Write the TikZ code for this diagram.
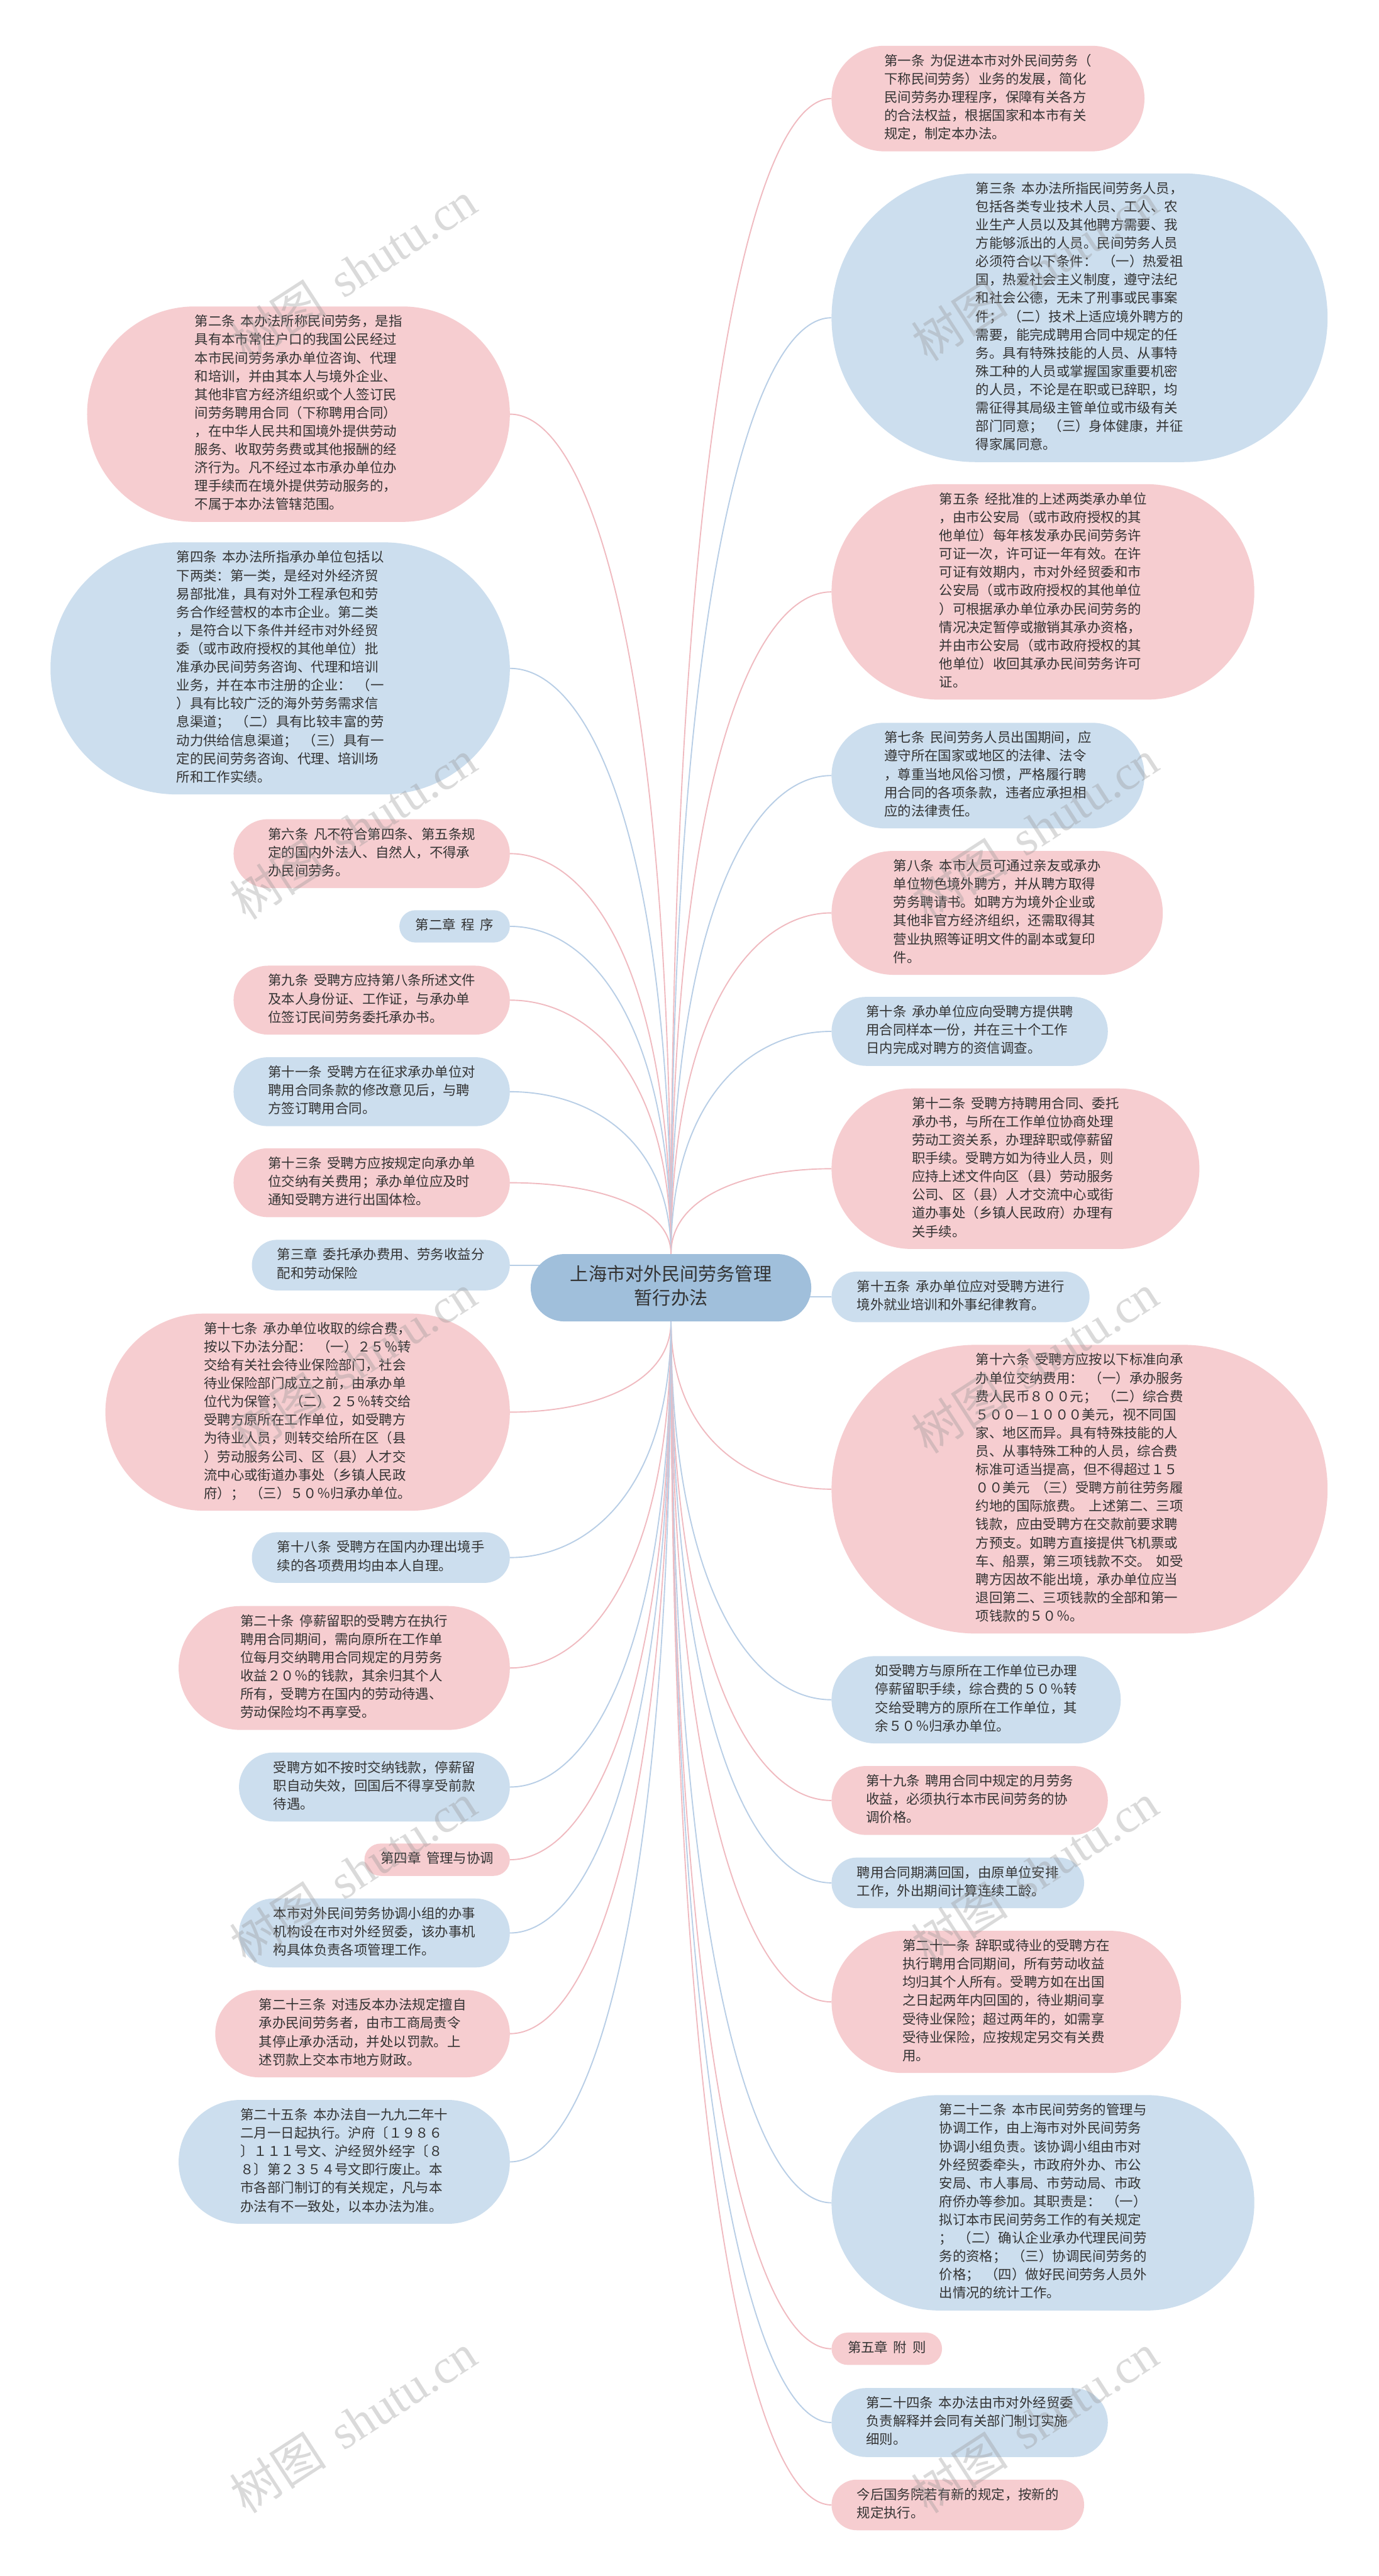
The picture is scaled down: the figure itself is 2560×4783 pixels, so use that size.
\documentclass[tikz,border=0pt]{standalone}
\usepackage{fontspec}
\setmainfont{Noto Sans CJK SC}[WordSpace=1.8]
\newfontfamily\wmlat{Liberation Serif}
\usetikzlibrary{calc}
\definecolor{pinkfill}{RGB}{246,205,208}
\definecolor{bluefill}{RGB}{204,222,238}
\definecolor{centerfill}{RGB}{160,191,219}
\definecolor{pinkline}{RGB}{240,186,192}
\definecolor{blueline}{RGB}{184,206,230}
\definecolor{txt}{RGB}{51,51,51}
\definecolor{wm}{RGB}{150,150,150}
\pgfdeclarelayer{back}
\pgfdeclarelayer{bg}
\pgfsetlayers{back,bg,main}
\tikzset{
  leaf/.style={rectangle, inner ysep=13pt, align=left, text=txt,
    font=\fontsize{25pt}{34pt}\selectfont,
    inner xsep={(34*#1+26)/2}, rounded corners={(34*#1+26)/2},
    minimum height={34*#1+26}},
  pk/.style={leaf=#1, fill=pinkfill},
  bl/.style={leaf=#1, fill=bluefill},
  rnode/.style={anchor=west},
  lnode/.style={anchor=east},
  centre/.style={rectangle, rounded corners=62.5pt, inner xsep=73.5pt, inner ysep=17.5pt,
    minimum height=125pt, align=center, text=txt,
    fill=centerfill, font=\fontsize{34pt}{45pt}\selectfont},
  linepk/.style={draw=pinkline, line width=2.2pt},
  linebl/.style={draw=blueline, line width=2.2pt},
  wmark/.style={rotate=33, text=wm, opacity=0.35, font=\fontsize{90pt}{100pt}\selectfont},
}
\begin{document}
\begin{tikzpicture}[x=1pt,y=-1pt]
\begin{pgfonlayer}{back}
\fill[white] (0,0) rectangle (2560,4783);
\end{pgfonlayer}
\useasboundingbox (0,0) rectangle (2560,4783);

% centre
\node[centre] (c) at (1246,2391) {\strut 上海市对外民间劳务管理\\暂行办法\strut};

% right side
\node[pk=5,rnode] (r1) at (1544,183) {\strut 第一条 为促进本市对外民间劳务（\\下称民间劳务）业务的发展，简化\\民间劳务办理程序，保障有关各方\\的合法权益，根据国家和本市有关\\规定，制定本办法。\strut};
\node[bl=15,rnode] (r2) at (1544,590) {\strut 第三条 本办法所指民间劳务人员，\\包括各类专业技术人员、工人、农\\业生产人员以及其他聘方需要、我\\方能够派出的人员。民间劳务人员\\必须符合以下条件： （一）热爱祖\\国，热爱社会主义制度，遵守法纪\\和社会公德，无未了刑事或民事案\\件； （二）技术上适应境外聘方的\\需要，能完成聘用合同中规定的任\\务。具有特殊技能的人员、从事特\\殊工种的人员或掌握国家重要机密\\的人员，不论是在职或已辞职，均\\需征得其局级主管单位或市级有关\\部门同意； （三）身体健康，并征\\得家属同意。\strut};
\node[pk=11,rnode] (r3) at (1544,1099) {\strut 第五条 经批准的上述两类承办单位\\，由市公安局（或市政府授权的其\\他单位）每年核发承办民间劳务许\\可证一次，许可证一年有效。在许\\可证有效期内，市对外经贸委和市\\公安局（或市政府授权的其他单位\\）可根据承办单位承办民间劳务的\\情况决定暂停或撤销其承办资格，\\并由市公安局（或市政府授权的其\\他单位）收回其承办民间劳务许可\\证。\strut};
\node[bl=5,rnode] (r4) at (1544,1440) {\strut 第七条 民间劳务人员出国期间，应\\遵守所在国家或地区的法律、法令\\，尊重当地风俗习惯，严格履行聘\\用合同的各项条款，违者应承担相\\应的法律责任。\strut};
\node[pk=6,rnode] (r5) at (1544,1695) {\strut 第八条 本市人员可通过亲友或承办\\单位物色境外聘方，并从聘方取得\\劳务聘请书。如聘方为境外企业或\\其他非官方经济组织，还需取得其\\营业执照等证明文件的副本或复印\\件。\strut};
\node[bl=3,rnode] (r6) at (1544,1915) {\strut 第十条 承办单位应向受聘方提供聘\\用合同样本一份，并在三十个工作\\日内完成对聘方的资信调查。\strut};
\node[pk=8,rnode] (r7) at (1544,2170) {\strut 第十二条 受聘方持聘用合同、委托\\承办书，与所在工作单位协商处理\\劳动工资关系，办理辞职或停薪留\\职手续。受聘方如为待业人员，则\\应持上述文件向区（县）劳动服务\\公司、区（县）人才交流中心或街\\道办事处（乡镇人民政府）办理有\\关手续。\strut};
\node[bl=2,rnode] (r8) at (1544,2408) {\strut 第十五条 承办单位应对受聘方进行\\境外就业培训和外事纪律教育。\strut};
\node[pk=15,rnode] (r9) at (1544,2765) {\strut 第十六条 受聘方应按以下标准向承\\办单位交纳费用： （一）承办服务\\费人民币８００元； （二）综合费\\５００—１０００美元，视不同国\\家、地区而异。具有特殊技能的人\\员、从事特殊工种的人员，综合费\\标准可适当提高，但不得超过１５\\００美元 （三）受聘方前往劳务履\\约地的国际旅费。 上述第二、三项\\钱款，应由受聘方在交款前要求聘\\方预支。如聘方直接提供飞机票或\\车、船票，第三项钱款不交。 如受\\聘方因故不能出境，承办单位应当\\退回第二、三项钱款的全部和第一\\项钱款的５０％。\strut};
\node[bl=4,rnode] (r10) at (1544,3156) {\strut 如受聘方与原所在工作单位已办理\\停薪留职手续，综合费的５０％转\\交给受聘方的原所在工作单位，其\\余５０％归承办单位。\strut};
\node[pk=3,rnode] (r11) at (1544,3343) {\strut 第十九条 聘用合同中规定的月劳务\\收益，必须执行本市民间劳务的协\\调价格。\strut};
\node[bl=2,rnode] (r12) at (1544,3496) {\strut 聘用合同期满回国，由原单位安排\\工作，外出期间计算连续工龄。\strut};
\node[pk=7,rnode] (r13) at (1544,3717) {\strut 第二十一条 辞职或待业的受聘方在\\执行聘用合同期间，所有劳动收益\\均归其个人所有。受聘方如在出国\\之日起两年内回国的，待业期间享\\受待业保险；超过两年的，如需享\\受待业保险，应按规定另交有关费\\用。\strut};
\node[bl=11,rnode] (r14) at (1544,4090) {\strut 第二十二条 本市民间劳务的管理与\\协调工作，由上海市对外民间劳务\\协调小组负责。该协调小组由市对\\外经贸委牵头，市政府外办、市公\\安局、市人事局、市劳动局、市政\\府侨办等参加。其职责是： （一）\\拟订本市民间劳务工作的有关规定\\； （二）确认企业承办代理民间劳\\务的资格； （三）协调民间劳务的\\价格； （四）做好民间劳务人员外\\出情况的统计工作。\strut};
\node[pk=1,rnode] (r15) at (1544,4361) {\strut 第五章 附 则\strut};
\node[bl=3,rnode] (r16) at (1544,4498) {\strut 第二十四条 本办法由市对外经贸委\\负责解释并会同有关部门制订实施\\细则。\strut};
\node[pk=2,rnode] (r17) at (1544,4651) {\strut 今后国务院若有新的规定，按新的\\规定执行。\strut};

% left side
\node[pk=11,lnode] (l1) at (947,769) {\strut 第二条 本办法所称民间劳务，是指\\具有本市常住户口的我国公民经过\\本市民间劳务承办单位咨询、代理\\和培训，并由其本人与境外企业、\\其他非官方经济组织或个人签订民\\间劳务聘用合同（下称聘用合同）\\，在中华人民共和国境外提供劳动\\服务、收取劳务费或其他报酬的经\\济行为。凡不经过本市承办单位办\\理手续而在境外提供劳动服务的，\\不属于本办法管辖范围。\strut};
\node[bl=13,lnode] (l2) at (947,1241) {\strut 第四条 本办法所指承办单位包括以\\下两类：第一类，是经对外经济贸\\易部批准，具有对外工程承包和劳\\务合作经营权的本市企业。第二类\\，是符合以下条件并经市对外经贸\\委（或市政府授权的其他单位）批\\准承办民间劳务咨询、代理和培训\\业务，并在本市注册的企业： （一\\）具有比较广泛的海外劳务需求信\\息渠道； （二）具有比较丰富的劳\\动力供给信息渠道； （三）具有一\\定的民间劳务咨询、代理、培训场\\所和工作实绩。\strut};
\node[pk=3,lnode] (l3) at (947,1585) {\strut 第六条 凡不符合第四条、第五条规\\定的国内外法人、自然人，不得承\\办民间劳务。\strut};
\node[bl=1,lnode] (l4) at (947,1720) {\strut 第二章 程 序\strut};
\node[pk=3,lnode] (l5) at (947,1857) {\strut 第九条 受聘方应持第八条所述文件\\及本人身份证、工作证，与承办单\\位签订民间劳务委托承办书。\strut};
\node[bl=3,lnode] (l6) at (947,2027) {\strut 第十一条 受聘方在征求承办单位对\\聘用合同条款的修改意见后，与聘\\方签订聘用合同。\strut};
\node[pk=3,lnode] (l7) at (947,2196) {\strut 第十三条 受聘方应按规定向承办单\\位交纳有关费用；承办单位应及时\\通知受聘方进行出国体检。\strut};
\node[bl=2,lnode] (l8) at (947,2349) {\strut 第三章 委托承办费用、劳务收益分\\配和劳动保险\strut};
\node[pk=10,lnode] (l9) at (947,2622) {\strut 第十七条 承办单位收取的综合费，\\按以下办法分配： （一）２５％转\\交给有关社会待业保险部门，社会\\待业保险部门成立之前，由承办单\\位代为保管； （二）２５％转交给\\受聘方原所在工作单位，如受聘方\\为待业人员，则转交给所在区（县\\）劳动服务公司、区（县）人才交\\流中心或街道办事处（乡镇人民政\\府）； （三）５０％归承办单位。\strut};
\node[bl=2,lnode] (l10) at (947,2892) {\strut 第十八条 受聘方在国内办理出境手\\续的各项费用均由本人自理。\strut};
\node[pk=6,lnode] (l11) at (947,3097) {\strut 第二十条 停薪留职的受聘方在执行\\聘用合同期间，需向原所在工作单\\位每月交纳聘用合同规定的月劳务\\收益２０％的钱款，其余归其个人\\所有，受聘方在国内的劳动待遇、\\劳动保险均不再享受。\strut};
\node[bl=3,lnode] (l12) at (947,3318) {\strut 受聘方如不按时交纳钱款，停薪留\\职自动失效，回国后不得享受前款\\待遇。\strut};
\node[pk=1,lnode] (l13) at (947,3453) {\strut 第四章 管理与协调\strut};
\node[bl=3,lnode] (l14) at (947,3589) {\strut 本市对外民间劳务协调小组的办事\\机构设在市对外经贸委，该办事机\\构具体负责各项管理工作。\strut};
\node[pk=4,lnode] (l15) at (947,3776) {\strut 第二十三条 对违反本办法规定擅自\\承办民间劳务者，由市工商局责令\\其停止承办活动，并处以罚款。上\\述罚款上交本市地方财政。\strut};
\node[bl=6,lnode] (l16) at (947,4014) {\strut 第二十五条 本办法自一九九二年十\\二月一日起执行。沪府〔１９８６\\〕１１１号文、沪经贸外经字〔８\\８〕第２３５４号文即行废止。本\\市各部门制订的有关规定，凡与本\\办法有不一致处，以本办法为准。\strut};

% connectors
\begin{pgfonlayer}{bg}
\foreach \n/\s in {r1/linepk,r2/linebl,r3/linepk,r4/linebl,r5/linepk,r6/linebl,r7/linepk}
  \draw[\s] (c.north) .. controls ($(c.north)!0.7!(c.north |- \n.west)$) and ($(c.north |- \n.west)!0.5!(\n.west)$) .. (\n.west);
\foreach \n/\s in {r9/linepk,r10/linebl,r11/linepk,r12/linebl,r13/linepk,r14/linebl,r15/linepk,r16/linebl,r17/linepk}
  \draw[\s] (c.south) .. controls ($(c.south)!0.7!(c.south |- \n.west)$) and ($(c.south |- \n.west)!0.5!(\n.west)$) .. (\n.west);
\foreach \n/\s in {l1/linepk,l2/linebl,l3/linepk,l4/linebl,l5/linepk,l6/linebl,l7/linepk}
  \draw[\s] (c.north) .. controls ($(c.north)!0.7!(c.north |- \n.east)$) and ($(c.north |- \n.east)!0.5!(\n.east)$) .. (\n.east);
\foreach \n/\s in {l9/linepk,l10/linebl,l11/linepk,l12/linebl,l13/linepk,l14/linebl,l15/linepk,l16/linebl}
  \draw[\s] (c.south) .. controls ($(c.south)!0.7!(c.south |- \n.east)$) and ($(c.south |- \n.east)!0.5!(\n.east)$) .. (\n.east);
\draw[linebl] (r8.west) -- (r8.west -| c.center);
\draw[linebl] (l8.east) -- (l8.east -| c.center);
\end{pgfonlayer}

% watermarks
\foreach \wy [count=\i] in {503,1540,2531,3477,4499}{
  \node[wmark] (wl\i) at (656,\wy) {树图 {\wmlat shutu.cn}};
  \node[wmark] (wr\i) at (1922,\wy) {树图 {\wmlat shutu.cn}};
}
\end{tikzpicture}
\end{document}
